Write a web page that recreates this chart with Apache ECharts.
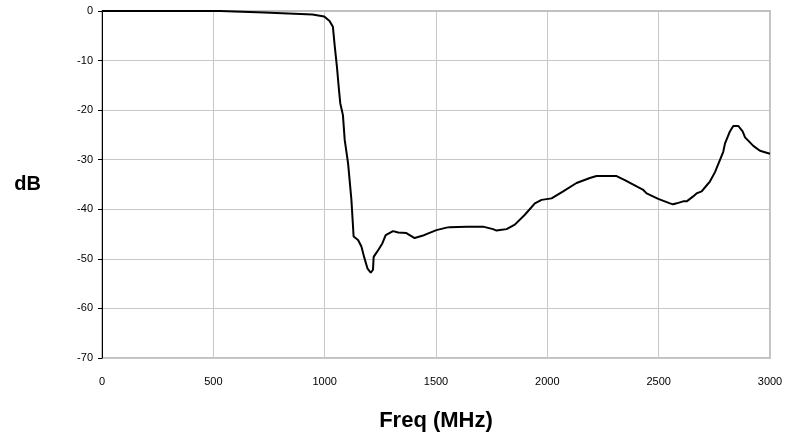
<!DOCTYPE html>
<html>
<head>
<meta charset="utf-8">
<script src="https://cdn.jsdelivr.net/npm/echarts@6/dist/echarts.min.js"></script>
<style>html,body{margin:0;padding:0;background:#fff}#c{width:789px;height:439px}</style>
</head>
<body>
<div id="c"></div>
<script>
var freq = [0,530,533,728,730,945,947,998,1000,1022,1037,1045,1055,1063,1070,1082,1090,1105,1120,1130,1150,1165,1177,1192,1207,1217,1220,1235,1259,1274,1307,1330,1367,1404,1442,1457,1502,1547,1562,1637,1711,1756,1772,1787,1817,1854,1899,1944,1974,2019,2071,2131,2191,2221,2311,2348,2401,2431,2446,2498,2551,2565,2581,2610,2626,2655,2670,2693,2717,2730,2753,2790,2798,2820,2835,2858,2877,2888,2925,2955,3000];
var dB = [0,0,-0.3,-0.3,-0.7,-0.7,-1.1,-1.1,-1.2,-2.0,-3.2,-7.0,-11.2,-15.3,-18.6,-21,-26,-30.7,-38,-45.5,-46.2,-47.5,-49.6,-51.9,-52.8,-52.2,-49.6,-48.6,-46.9,-45.2,-44.4,-44.7,-44.8,-45.8,-45.3,-45,-44.2,-43.7,-43.6,-43.5,-43.5,-44.0,-44.3,-44.2,-44.0,-43.1,-41.1,-38.8,-38.1,-37.8,-36.4,-34.7,-33.7,-33.3,-33.3,-34.1,-35.4,-36.1,-36.8,-37.9,-38.8,-39.0,-38.8,-38.4,-38.4,-37.4,-36.8,-36.4,-35.1,-34.4,-32.5,-28.4,-26.7,-24.3,-23.2,-23.2,-24.3,-25.5,-27.2,-28.2,-28.8];
var xTicks = [0,500,1000,1500,2000,2500,3000];
var yTicks = [0,-10,-20,-30,-40,-50,-60,-70];

var data = freq.map(function(f,i){return [f,dB[i]];});
var chart = echarts.init(document.getElementById('c'));
chart.setOption({
  animation:false,
  backgroundColor:'#fff',
  grid:{left:102,top:11,right:19,bottom:81,containLabel:false,outerBoundsMode:'none',show:true,borderColor:'#c0c0c0',borderWidth:2,backgroundColor:'transparent'},
  xAxis:{type:'value',min:xTicks[0],max:xTicks[xTicks.length-1],interval:500,
    name:'Freq (MHz)',nameLocation:'middle',nameGap:52,
    nameTextStyle:{fontFamily:'Liberation Sans',fontWeight:'bold',fontSize:22,color:'#000'},
    axisLine:{show:true,lineStyle:{color:'#c0c0c0',width:2}},
    axisTick:{show:false},
    axisLabel:{fontFamily:'Liberation Sans',fontSize:11,color:'#000',margin:18,formatter:function(v){return String(v);}},
    splitLine:{show:true,lineStyle:{color:'#c8c8c8',width:1}}},
  yAxis:{type:'value',min:yTicks[yTicks.length-1],max:yTicks[0],interval:10,
    name:'dB',nameLocation:'middle',nameRotate:0,nameGap:61,
    nameTextStyle:{fontFamily:'Liberation Sans',fontWeight:'bold',fontSize:20,color:'#000'},
    axisLine:{show:true,lineStyle:{color:'#000',width:1}},
    axisTick:{show:true,inside:false,length:4,lineStyle:{color:'#000'}},
    axisLabel:{fontFamily:'Liberation Sans',fontSize:11,color:'#000',margin:9},
    splitLine:{show:true,lineStyle:{color:'#c8c8c8',width:1}}},
  series:[{type:'line',data:data,showSymbol:false,symbol:'none',
    lineStyle:{color:'#000',width:2},z:5}]
});
</script>
</body>
</html>
